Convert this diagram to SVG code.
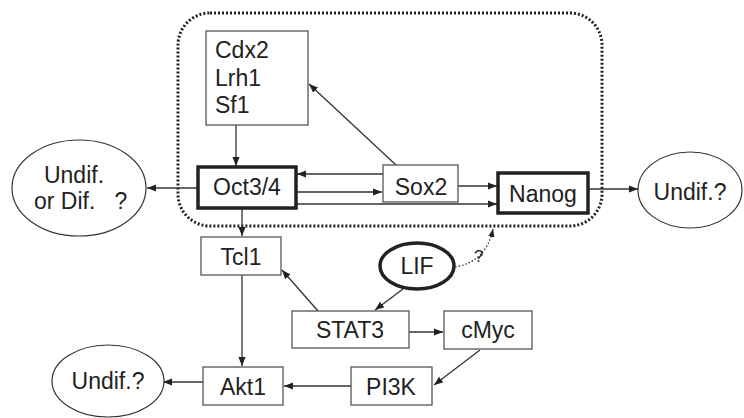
<svg xmlns="http://www.w3.org/2000/svg" width="744" height="418" viewBox="0 0 744 418">
<style>
text{font-family:"Liberation Sans",Arial,sans-serif;font-size:23px;fill:#222}
.box{fill:#fff;stroke:#555;stroke-width:1.3}
.thick{fill:#fff;stroke:#222;stroke-width:3.5}
.ell{fill:#fff;stroke:#333;stroke-width:1.2}
.ln{fill:none;stroke:#333;stroke-width:1.3;marker-end:url(#ah)}
.dot{fill:none;stroke:#222;stroke-width:3;stroke-dasharray:2 2}
</style>
<defs>
<marker id="ah" viewBox="0 0 10 10" refX="10" refY="5" markerWidth="9" markerHeight="9" markerUnits="userSpaceOnUse" orient="auto">
<path d="M0,1 L10,5 L0,9 z" fill="#222"/>
</marker>
<marker id="ahs" viewBox="0 0 10 10" refX="10" refY="5" markerWidth="8" markerHeight="8" markerUnits="userSpaceOnUse" orient="auto">
<path d="M0,1 L10,5 L0,9 z" fill="#222"/>
</marker>
</defs>
<rect class="dot" x="178" y="13" width="424" height="213" rx="32" ry="32"/>
<g id="connectors">
<line class="ln" x1="236" y1="125" x2="236" y2="166"/>
<line class="ln" x1="396" y1="165" x2="309" y2="84"/>
<line class="ln" x1="383" y1="174" x2="297" y2="174"/>
<line class="ln" x1="296" y1="192" x2="382" y2="192"/>
<line class="ln" x1="458" y1="186" x2="497" y2="186"/>
<line class="ln" x1="296" y1="204" x2="497" y2="204"/>
<line class="ln" x1="198" y1="188" x2="147" y2="188"/>
<line class="ln" x1="588" y1="189" x2="638" y2="189"/>
<line class="ln" x1="242" y1="208" x2="242" y2="236"/>
<line class="ln" x1="242" y1="275" x2="242" y2="366"/>
<line class="ln" x1="203" y1="382" x2="163" y2="382"/>
<line class="ln" x1="351" y1="386" x2="284" y2="386"/>
<line class="ln" x1="409" y1="332" x2="443" y2="332"/>
<line class="ln" x1="480" y1="350" x2="434" y2="385"/>
<line class="ln" x1="318" y1="311" x2="282" y2="270"/>
<line class="ln" x1="403" y1="289" x2="375" y2="310"/>
<path d="M455,267 Q486,262 493,229" fill="none" stroke="#222" stroke-width="1.2" stroke-dasharray="1.5 2" marker-end="url(#ahs)"/>
<text x="474" y="262" style="font-size:17px">?</text>
</g>
<g id="cdx2"><rect class="box" x="206" y="31" width="102" height="94"/>
<text x="215" y="58">Cdx2</text><text x="215" y="86">Lrh1</text><text x="215" y="113">Sf1</text></g>
<g id="oct34"><rect class="thick" x="198" y="167" width="98" height="41"/><text x="247" y="195" text-anchor="middle">Oct3/4</text></g>
<g id="sox2"><rect class="box" x="383" y="165" width="75" height="37"/><text x="421" y="195" text-anchor="middle">Sox2</text></g>
<g id="nanog"><rect class="thick" x="498" y="173" width="90" height="40"/><text x="543" y="202" text-anchor="middle">Nanog</text></g>
<g id="undif-left"><ellipse class="ell" cx="79" cy="188" rx="67" ry="48"/>
<text x="74" y="183" text-anchor="middle">Undif.</text><text x="34" y="209" xml:space="preserve">or Dif.   ?</text></g>
<g id="undif-right"><ellipse class="ell" cx="690" cy="190" rx="52" ry="38"/><text x="690" y="200" text-anchor="middle">Undif.?</text></g>
<g id="tcl1"><rect class="box" x="201" y="237" width="80" height="38"/><text x="241" y="265" text-anchor="middle">Tcl1</text></g>
<g id="lif"><ellipse cx="417" cy="266" rx="37" ry="23" fill="#fff" stroke="#222" stroke-width="3.5"/><text x="417" y="274" text-anchor="middle">LIF</text></g>
<g id="stat3"><rect class="box" x="292" y="311" width="117" height="37"/><text x="350" y="338" text-anchor="middle">STAT3</text></g>
<g id="cmyc"><rect class="box" x="444" y="311" width="88" height="38"/><text x="488" y="338" text-anchor="middle">cMyc</text></g>
<g id="pi3k"><rect class="box" x="351" y="367" width="81" height="38"/><text x="391" y="395" text-anchor="middle">PI3K</text></g>
<g id="akt1"><rect class="box" x="203" y="367" width="80" height="38"/><text x="243" y="395" text-anchor="middle">Akt1</text></g>
<g id="undif-bottom"><ellipse class="ell" cx="108" cy="381" rx="56" ry="36"/><text x="108" y="389" text-anchor="middle">Undif.?</text></g>
</svg>
